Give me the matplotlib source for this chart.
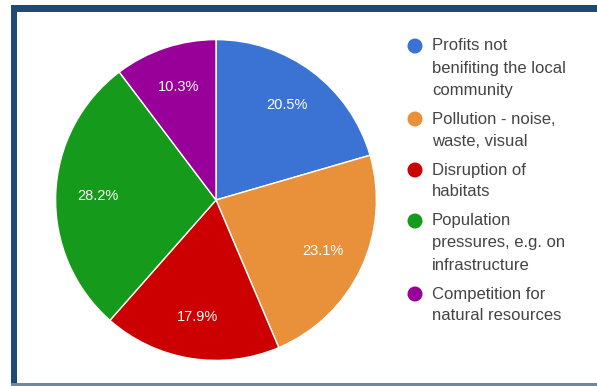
import matplotlib.pyplot as plt
from matplotlib.patches import Rectangle, Ellipse

plt.rcParams['font.family'] = ['Liberation Sans', 'DejaVu Sans']

# slice shares (percent), clockwise from 12 o'clock
labels = ['Profits not\nbenifiting the local\ncommunity',
          'Pollution - noise,\nwaste, visual',
          'Disruption of\nhabitats',
          'Population\npressures, e.g. on\ninfrastructure',
          'Competition for\nnatural resources']
shares = [20.5, 23.1, 17.9, 28.2, 10.3]
colors = ['#3b73d5', '#e8913a', '#cc0000', '#159a1b', '#990099']

W, H = 597, 386
fig = plt.figure(figsize=(W / 100, H / 100), dpi=100)
fig.patch.set_facecolor('white')

# frame around the chart (top, left, bottom)
def px_rect(x0, y0, x1, y1, color):
    fig.patches.append(Rectangle((x0 / W, 1 - y1 / H), (x1 - x0) / W, (y1 - y0) / H,
                                 transform=fig.transFigure, facecolor=color,
                                 edgecolor='none', zorder=0))

px_rect(11, 5, W, 12, '#1f4a78')
px_rect(11, 5, 17, 384, '#1f4a78')
px_rect(11, 383, W, H, '#6a8aa4')

# pie
cx, cy, r = 216, 200, 162
ax = fig.add_axes([(cx - r) / W, 1 - (cy + r) / H, 2 * r / W, 2 * r / H])
wedges, texts, autotexts = ax.pie(shares, colors=colors, startangle=90, counterclock=False,
                                  radius=1, autopct='%.1f%%', pctdistance=0.74,
                                  wedgeprops=dict(edgecolor='white', linewidth=1),
                                  textprops=dict(color='white', fontsize=10.5))
ax.set_xlim(-1.01, 1.01)
ax.set_ylim(-1.01, 1.01)
ax.set_aspect('equal')
ax.axis('off')

# legend, marker lined up with the first text line
line_h = 22
gap = 7
y = 46
for lab, c in zip(labels, colors):
    fig.patches.append(Ellipse((415 / W, 1 - y / H), 15 / W, 15 / H, transform=fig.transFigure,
                               facecolor=c, edgecolor='none'))
    n = lab.count('\n') + 1
    for i, part in enumerate(lab.split('\n')):
        fig.text(432 / W, 1 - (y + i * line_h) / H, part, fontsize=12, color='#444444',
                 va='center', ha='left')
    y += n * line_h + gap

fig.savefig('out.png', dpi=100)
